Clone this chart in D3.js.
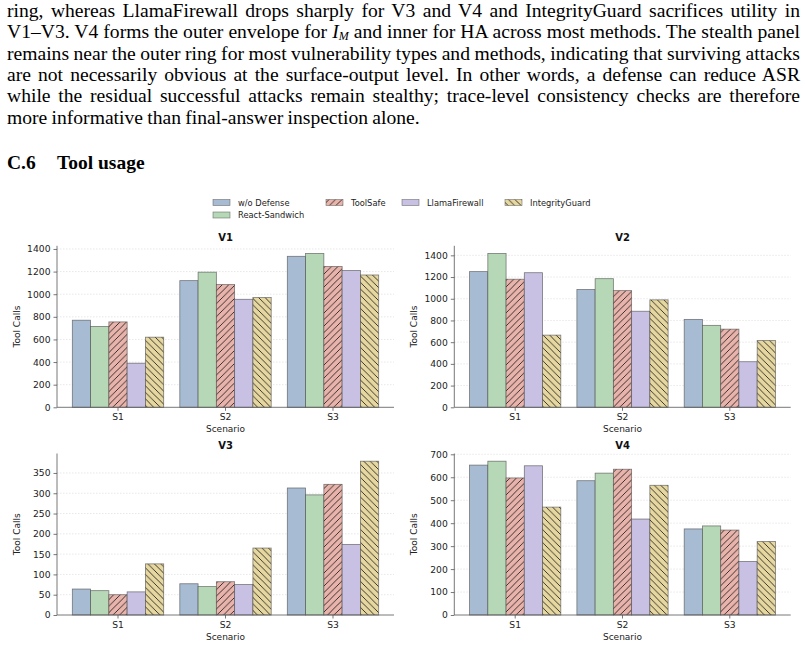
<!DOCTYPE html>
<html>
<head>
<meta charset="utf-8">
<script src="https://cdn.jsdelivr.net/npm/d3@7"></script>
<style>
  html, body { margin: 0; padding: 0; background: #fff; }
  svg { display: block; position: absolute; left: 0; top: 0; }
  #para { position: absolute; left: 7px; top: 0; width: 793px; font-family: 'Liberation Serif', 'Times New Roman', serif; font-size: 19.6px; line-height: 21.35px; color: #000; word-spacing: -0.6px; }
  #para div { white-space: nowrap; text-align: justify; text-align-last: justify; height: 21.35px; }
  #para div.last { text-align-last: left; }
  #para sub { font-size: 12px; line-height: 0; vertical-align: -2px; }
</style>
</head>
<body>
<div id="para"></div>
<script>
// paragraph lines above the figure
var bodyLines = [
  "ring, whereas LlamaFirewall drops sharply for V3 and V4 and IntegrityGuard sacrifices utility in",
  "V1\u2013V3. V4 forms the outer envelope for <i>I<sub>M</sub></i> and inner for HA across most methods. The stealth panel",
  "remains near the outer ring for most vulnerability types and methods, indicating that surviving attacks",
  "are not necessarily obvious at the surface-output level. In other words, a defense can reduce ASR",
  "while the residual successful attacks remain stealthy; trace-level consistency checks are therefore",
  "more informative than final-answer inspection alone."
];

var scenarios = ["S1", "S2", "S3"];
var methods = ["w/o Defense", "React-Sandwich", "ToolSafe", "LlamaFirewall", "IntegrityGuard"];
var colors = ["#a7bcd3", "#b6d8b6", "#e8b3aa", "#c8c1e4", "#e6d7a0"];
var hatches = [null, null, "/", null, "\\"];

// tool calls, one row per scenario, one value per method
var v1 = [[770, 715, 755, 390, 620], [1120, 1195, 1085, 955, 970], [1335, 1360, 1245, 1210, 1170]];
var v2 = [[1250, 1417, 1180, 1240, 665], [1085, 1185, 1075, 885, 990], [810, 755, 720, 420, 615]];
var v3 = [[64, 60, 50, 57, 126], [77, 70, 82, 75, 165], [313, 296, 322, 174, 379]];
var v4 = [[653, 670, 597, 650, 470], [585, 618, 635, 418, 565], [375, 388, 370, 233, 320]];

var ticksV1 = [0, 200, 400, 600, 800, 1000, 1200, 1400];
var ticksV2 = [0, 200, 400, 600, 800, 1000, 1200, 1400];
var ticksV3 = [0, 50, 100, 150, 200, 250, 300, 350];
var ticksV4 = [0, 100, 200, 300, 400, 500, 600, 700];

var W = 805, H = 647;

// text
d3.select("#para").selectAll("div").data(bodyLines).enter().append("div")
  .attr("class", function(d, i) { return i == bodyLines.length - 1 ? "last" : null; })
  .html(function(d) { return d; });

var svg = d3.select("body").append("svg").attr("width", W).attr("height", H);
var serif = "'Liberation Serif', 'Times New Roman', serif";
svg.append("text").attr("x", 7).attr("y", 169)
  .attr("font-family", serif).attr("font-size", 19.5).attr("font-weight", "bold").text("C.6");
svg.append("text").attr("x", 57).attr("y", 169)
  .attr("font-family", serif).attr("font-size", 19.5).attr("font-weight", "bold").text("Tool usage");

// hatch patterns
var defs = svg.append("defs");
methods.forEach(function(m, i) {
  if (!hatches[i]) return;
  var s = 6.5;
  var p = defs.append("pattern").attr("id", "hatch" + i)
    .attr("patternUnits", "userSpaceOnUse").attr("width", s).attr("height", s);
  p.append("rect").attr("width", s).attr("height", s).attr("fill", colors[i]);
  var segs = hatches[i] == "/"
    ? [[0, s, s, 0], [-1, 1, 1, -1], [s - 1, s + 1, s + 1, s - 1]]
    : [[0, 0, s, s], [-1, s - 1, 1, s + 1], [s - 1, -1, s + 1, 1]];
  segs.forEach(function(q) {
    p.append("line").attr("x1", q[0]).attr("y1", q[1]).attr("x2", q[2]).attr("y2", q[3])
      .attr("stroke", "#111").attr("stroke-width", 0.8);
  });
});
function fillOf(i) { return hatches[i] ? "url(#hatch" + i + ")" : colors[i]; }

// legend
var sans = "'DejaVu Sans', sans-serif";
var legendPos = [[213, 202.5], [213, 215], [326, 202.5], [402, 202.5], [505, 202.5]];
methods.forEach(function(m, i) {
  var g = svg.append("g").attr("transform", "translate(" + legendPos[i][0] + "," + legendPos[i][1] + ")");
  g.append("rect").attr("x", 0).attr("y", -3).attr("width", 17).attr("height", 6)
    .attr("fill", fillOf(i)).attr("stroke", "#555").attr("stroke-opacity", 0.7).attr("stroke-width", 0.7);
  g.append("text").attr("x", 25).attr("y", 3).attr("font-family", sans).attr("font-size", 8.3)
    .attr("fill", "#222").text(m);
});

function panel(name, data, ticks, left, right, bottom) {
  var top = bottom - 161.5;
  var maxV = d3.max(data, function(r) { return d3.max(r); });
  var y = d3.scaleLinear().domain([0, maxV * 1.05]).range([bottom, top]);
  var x = d3.scaleBand().domain(scenarios).range([left, right]).paddingInner(0.15).paddingOuter(0.1425);
  var xi = d3.scaleBand().domain(d3.range(methods.length)).range([0, x.bandwidth()]);
  var g = svg.append("g");

  // grid
  g.selectAll(".grid").data(ticks.slice(1)).enter().append("line")
    .attr("x1", left).attr("x2", right)
    .attr("y1", function(d) { return y(d); }).attr("y2", function(d) { return y(d); })
    .attr("stroke", "#d8d8d8").attr("stroke-width", 0.6).attr("stroke-dasharray", "1.5,1.5");

  // bars
  scenarios.forEach(function(s, si) {
    g.selectAll(".bar" + si).data(data[si]).enter().append("rect")
      .attr("x", function(d, i) { return x(s) + xi(i); })
      .attr("y", function(d) { return y(d); })
      .attr("width", xi.bandwidth())
      .attr("height", function(d) { return bottom - y(d); })
      .attr("fill", function(d, i) { return fillOf(i); })
      .attr("stroke", "#4a4a4a").attr("stroke-opacity", 0.7).attr("stroke-width", 0.8);
  });

  // axes
  var ya = d3.axisLeft(y).tickValues(ticks).tickFormat(d3.format("d")).tickSize(3.5).tickPadding(3);
  var xa = d3.axisBottom(x).tickSize(3.5).tickPadding(3);
  var yg = g.append("g").attr("transform", "translate(" + left + ",0)").call(ya);
  var xg = g.append("g").attr("transform", "translate(0," + bottom + ")").call(xa);
  [yg, xg].forEach(function(a) {
    a.select(".domain").attr("stroke", "#555").attr("stroke-width", 0.8);
    a.selectAll(".tick line").attr("stroke", "#555").attr("stroke-width", 0.8);
    a.selectAll(".tick text").attr("font-family", sans).attr("font-size", 9.2).attr("fill", "#222");
  });
  xg.select(".domain").attr("d", "M" + left + ",0H" + right);
  yg.select(".domain").attr("d", "M0," + top + "V" + bottom);

  g.append("text").attr("x", (left + right) / 2).attr("y", top - 5)
    .attr("text-anchor", "middle").attr("font-family", sans).attr("font-size", 10)
    .attr("font-weight", "bold").attr("fill", "#111").text(name);
  g.append("text").attr("x", (left + right) / 2).attr("y", bottom + 25)
    .attr("text-anchor", "middle").attr("font-family", sans).attr("font-size", 9)
    .attr("fill", "#222").text("Scenario");
  g.append("text").attr("transform", "translate(" + (left - 37) + "," + ((top + bottom) / 2) + ") rotate(-90)")
    .attr("text-anchor", "middle").attr("font-family", sans).attr("font-size", 9)
    .attr("fill", "#222").text("Tool Calls");
}

panel("V1", v1, ticksV1, 57, 394, 407.3);
panel("V2", v2, ticksV2, 454.3, 790.7, 407.3);
panel("V3", v3, ticksV3, 57, 394, 615);
panel("V4", v4, ticksV4, 454.3, 790.7, 615);
</script>
</body>
</html>
